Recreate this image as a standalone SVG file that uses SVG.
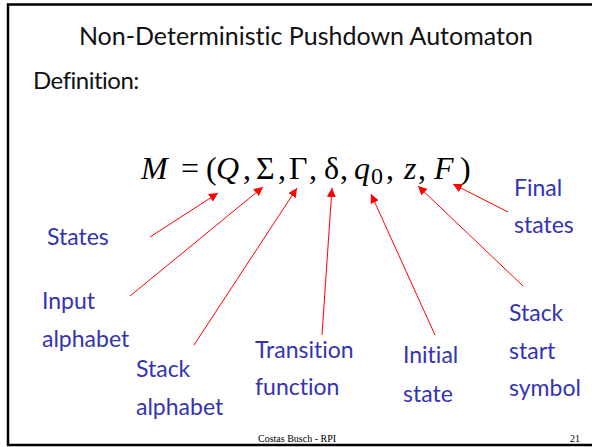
<svg xmlns="http://www.w3.org/2000/svg" width="592" height="447" viewBox="0 0 592 447">
<style>
.title{font-family:Lato,"Open Sans",sans-serif;font-size:25px;fill:#111;font-variant-ligatures:none}
.def{font-size:24px;letter-spacing:-0.5px}
.lbl{font-family:Lato,"Open Sans",sans-serif;font-size:23px;fill:#3333b3;font-variant-ligatures:none}
.eq{font-family:"Liberation Serif","Times New Roman",serif;font-size:32px;fill:#000}
.it{font-style:italic}
.foot{font-family:"Liberation Serif","Times New Roman",serif;font-size:10px;fill:#000}
.arr{stroke:#ff0000;stroke-width:1;fill:none;marker-end:url(#ah)}
</style>
<defs>
<marker id="ah" viewBox="0 0 10 10" refX="10" refY="5" markerWidth="9" markerHeight="9" markerUnits="userSpaceOnUse" orient="auto">
<path d="M0,0 L10,5 L0,10 z" fill="#ff0000"/>
</marker>
</defs>
<rect width="592" height="447" fill="#fff"/>
<path d="M600,4.5 H8 V445 H600" fill="none" stroke="#000" stroke-width="2.5"/>
<text class="title" x="306" y="45" text-anchor="middle">Non-Deterministic Pushdown Automaton</text>
<text class="title def" x="33" y="89">Definition:</text>
<g id="equation">
<text class="eq" y="179"><tspan class="it" x="141">M</tspan><tspan x="181">=</tspan><tspan x="206">(</tspan><tspan class="it" x="216">Q</tspan><tspan x="243">,</tspan><tspan x="256">Σ</tspan><tspan x="278">,</tspan><tspan x="289">Γ</tspan><tspan x="309">,</tspan><tspan x="324">δ</tspan><tspan x="340">,</tspan><tspan class="it" x="354">q</tspan><tspan x="371" y="184" font-size="24">0</tspan><tspan x="386" y="179">,</tspan><tspan class="it" x="404">z</tspan><tspan x="418">,</tspan><tspan class="it" x="434">F</tspan><tspan x="460">)</tspan></text>
</g>
<g id="connectors">
<line class="arr" x1="150" y1="237" x2="218" y2="193"/>
<line class="arr" x1="130" y1="296" x2="263" y2="187"/>
<line class="arr" x1="194" y1="345" x2="297" y2="188"/>
<line class="arr" x1="322" y1="335" x2="332" y2="188"/>
<line class="arr" x1="435" y1="335" x2="371" y2="194"/>
<line class="arr" x1="523" y1="286" x2="418" y2="186"/>
<line class="arr" x1="508" y1="212" x2="453" y2="184"/>
</g>
<g id="states"><text class="lbl" x="47" y="245">States</text></g>
<g id="input-alphabet"><text class="lbl" x="42" y="309">Input</text><text class="lbl" x="42" y="347">alphabet</text></g>
<g id="stack-alphabet"><text class="lbl" x="136" y="377">Stack</text><text class="lbl" x="136" y="415">alphabet</text></g>
<g id="transition-function"><text class="lbl" x="255" y="358">Transition</text><text class="lbl" x="255" y="395">function</text></g>
<g id="initial-state"><text class="lbl" x="403" y="363">Initial</text><text class="lbl" x="403" y="402">state</text></g>
<g id="stack-start-symbol"><text class="lbl" x="509" y="321">Stack</text><text class="lbl" x="509" y="359">start</text><text class="lbl" x="509" y="396">symbol</text></g>
<g id="final-states"><text class="lbl" x="514" y="196">Final</text><text class="lbl" x="514" y="233">states</text></g>
<text class="foot" x="258" y="442">Costas Busch - RPI</text>
<text class="foot" x="570" y="442">21</text>
</svg>
